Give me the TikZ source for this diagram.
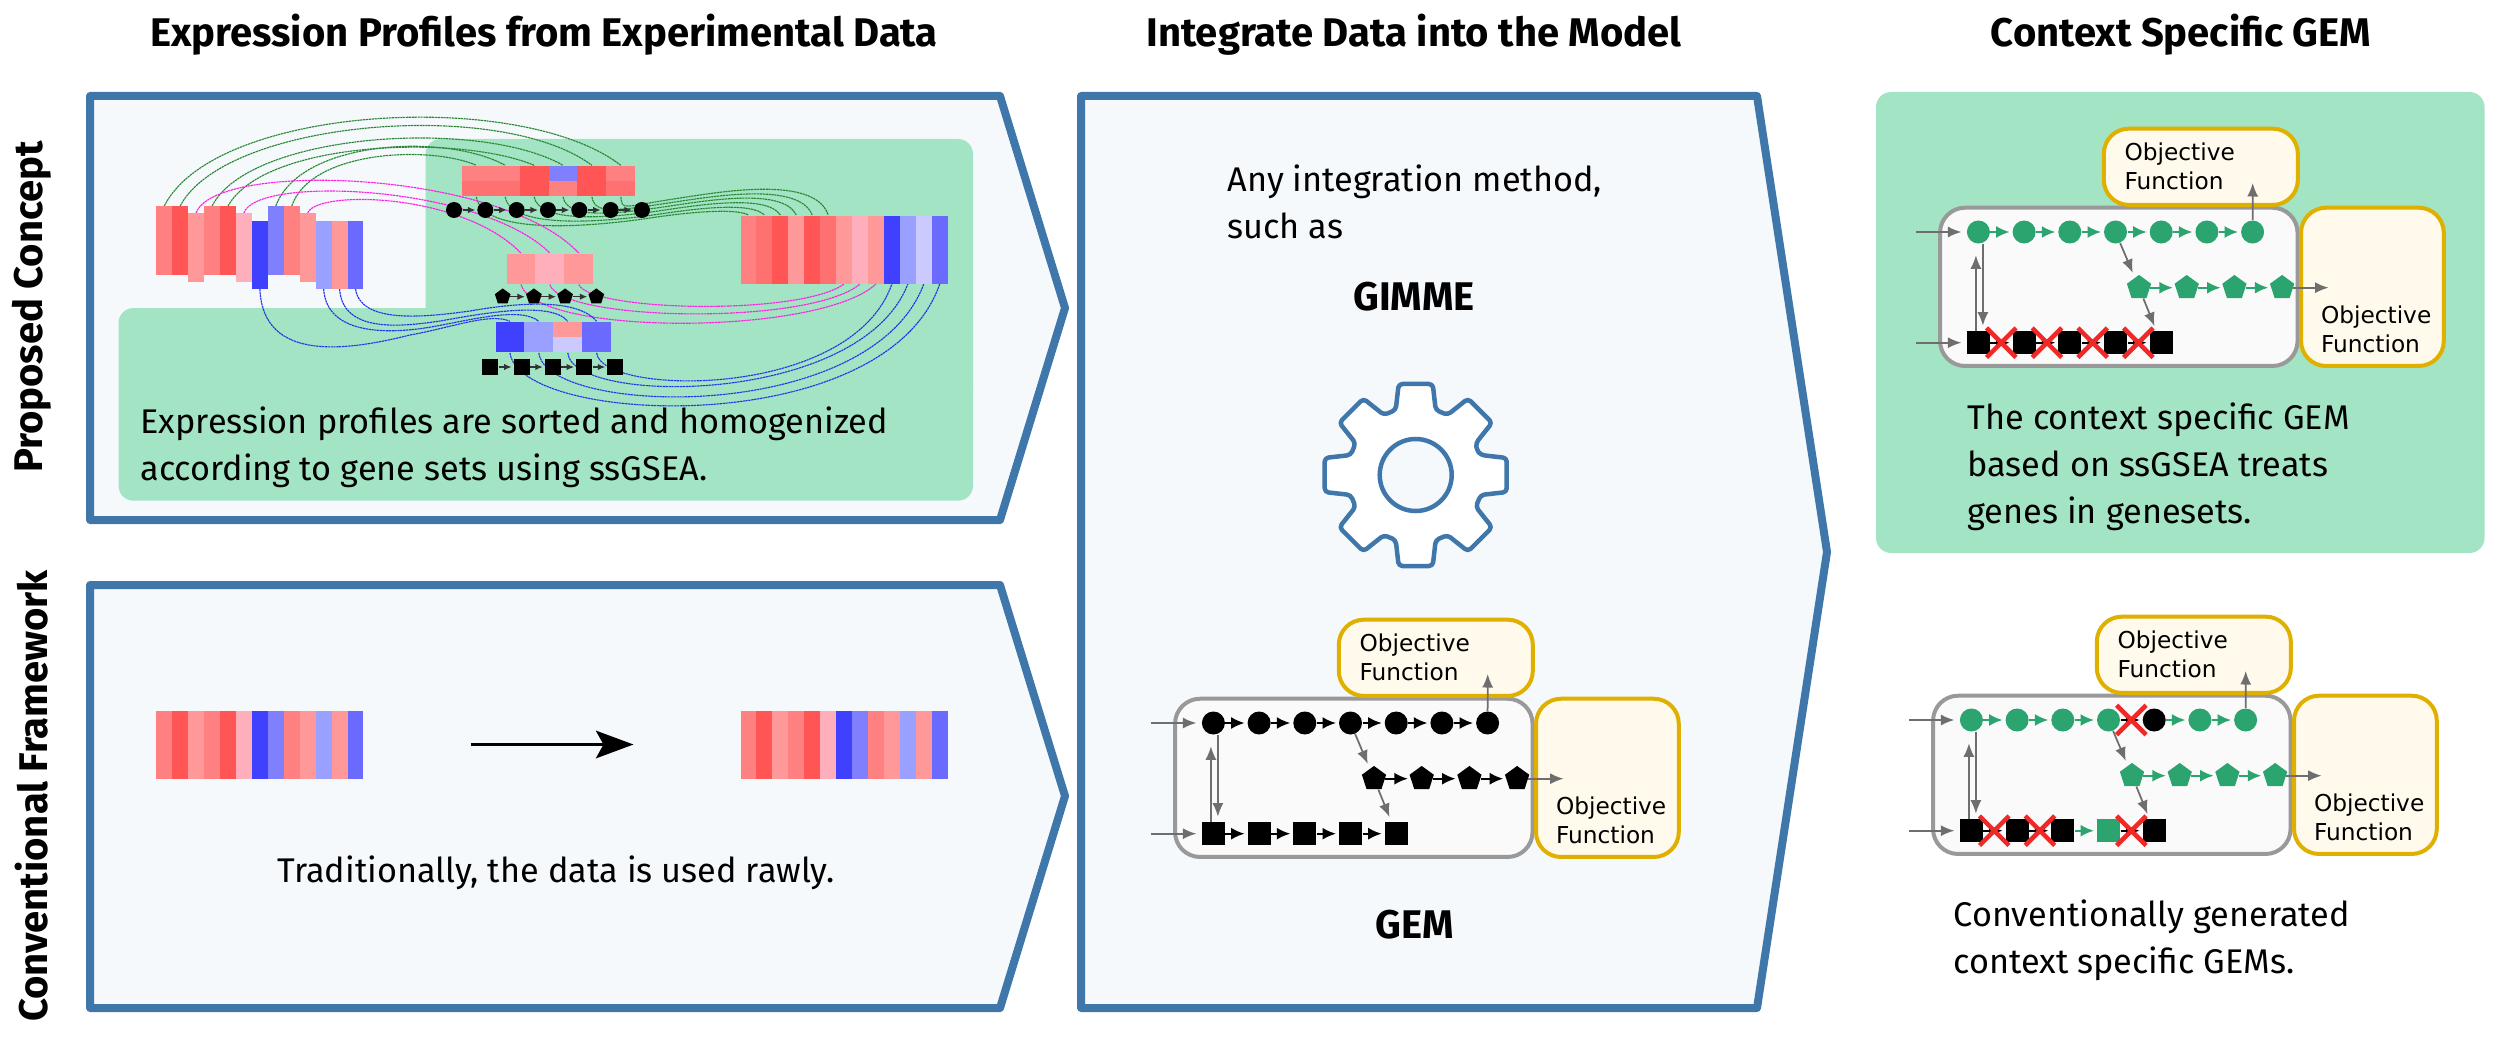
\documentclass[tikz,border=0pt]{standalone}
\usepackage{fontspec}
\setmainfont{Fira Sans}
\newfontfamily\objfont{DejaVu Sans}
\usetikzlibrary{arrows.meta,calc,shapes.geometric,shapes.misc}
\definecolor{panelblue}{RGB}{64,119,171}
\definecolor{panelfill}{RGB}{245,249,252}
\definecolor{mintbg}{RGB}{163,228,196}
\definecolor{gemgreen}{RGB}{44,164,111}
\definecolor{objgold}{RGB}{224,176,0}
\definecolor{objfill}{RGB}{255,250,235}
\definecolor{boxgrey}{RGB}{153,153,153}
\definecolor{boxfill}{RGB}{250,250,250}
\definecolor{argrey}{RGB}{110,110,110}
\definecolor{crossred}{RGB}{240,40,40}
\definecolor{wiregreen}{RGB}{40,135,50}
\definecolor{wiremag}{RGB}{255,30,225}
\definecolor{wireblue}{RGB}{35,50,235}
\definecolor{exA}{RGB}{255,85,85}
\definecolor{exB}{RGB}{255,128,128}
\definecolor{exC}{RGB}{255,153,153}
\definecolor{exD}{RGB}{255,175,187}
\definecolor{exE}{RGB}{64,64,255}
\definecolor{exF}{RGB}{128,128,255}
\definecolor{exG}{RGB}{154,160,255}
\definecolor{exH}{RGB}{106,106,255}
\definecolor{exI}{RGB}{202,202,255}
\definecolor{exJ}{RGB}{255,112,112}
\pgfdeclarelayer{back}
\pgfdeclarelayer{wires}
\pgfsetlayers{back,wires,main}
\newcommand{\gemnet}[3]{%
  \node[gembox] (box) at (140.4,54.85) {};
  \node[objbox,minimum height=30.5pt,text width=61pt,inner xsep=8.3pt] (obja) at (222.4,-65.2) {Objective\\Function};
  \node[objbox,minimum height=63.3pt,text width=41.1pt,inner xsep=8pt] (objb) at (394,54.85) {\mbox{}\\[29.6pt]Objective\\Function};
  \coordinate (ina) at (-62.4,0);
  \coordinate (inb) at (-62.4,110.7);
  \coordinate (top) at (274.3,-49);
  \coordinate (out) at (350.2,55.7);
  \foreach \c [count=\i, remember=\i as \j (initially 0)] in {#1} {
    \node[circlenode,fill=\c] (c\i) at ({45.7*(\i-1)},0) {};
    \ifnum\i>1 \draw[linkar,\c] (c\j) -- (c\i);\fi}
  \foreach \c [count=\i, remember=\i as \j (initially 0)] in {#2} {
    \node[pentnode,fill=\c] (p\i) at ({160.6+47.7*(\i-1)},55.7) {};
    \ifnum\i>1 \draw[linkar,\c] (p\j) -- (p\i);\fi}
  \foreach \c [count=\i, remember=\i as \j (initially 0)] in {#3} {
    \node[squarenode,fill=\c] (s\i) at ({45.7*(\i-1)},110.7) {};
    \ifnum\i>1 \draw[linkar,\c] (s\j) -- (s\i);\fi}
  \draw[greyar] (ina) -- (c1);
  \draw[greyar] (inb) -- (s1);
  \draw[greyar] ([xshift=-1pt]s1.north) -- ([xshift=-1pt,yshift=-2.5pt]c1.south);
  \draw[greyar] ([xshift=1.8pt]c1.south) -- ([xshift=1.8pt]s1.north);
  \draw[greyar] (c4) -- (p1);
  \draw[greyar] (p1) -- (s5);
  \draw[greyar,shorten >=0pt] (c7.north) -- (top);
  \draw[greyar,shorten >=0pt] (p4) -- (out);
}
\begin{document}
\begin{tikzpicture}[x=0.4pt,y=-0.4pt,
  every node/.style={font=\fontsize{13.7}{18.8}\selectfont,text=black},
  panel/.style={draw=panelblue,fill=panelfill,line width=3.2pt,line join=round},
  mint/.style={fill=mintbg,rounded corners=6pt},
  head/.style={font=\fontsize{16}{18}\selectfont\bfseries},
  body/.style={align=left,anchor=west,inner sep=0pt},
  strip/.style={minimum width=6.36pt,minimum height=27.2pt,inner sep=0pt,anchor=north west},
  cell/.style={minimum width=11.55pt,minimum height=6.1pt,inner sep=0pt,anchor=north west},
  gembox/.style={draw=boxgrey,fill=boxfill,line width=1.6pt,rounded corners=10pt,
                 minimum width=143pt,minimum height=63.3pt},
  objbox/.style={draw=objgold,fill=objfill,line width=1.6pt,rounded corners=10pt,align=left,
                 inner ysep=0pt,font=\objfont\fontsize{9.3}{11.6}\selectfont},
  circlenode/.style={circle,minimum size=9.2pt,inner sep=0pt},
  pentnode/.style={regular polygon,regular polygon sides=5,minimum size=10.2pt,inner sep=0pt},
  squarenode/.style={rectangle,minimum size=9.2pt,inner sep=0pt},
  minic/.style={circle,fill=black,minimum size=6.4pt,inner sep=0pt},
  minip/.style={regular polygon,regular polygon sides=5,fill=black,minimum size=6.6pt,inner sep=0pt},
  minis/.style={rectangle,fill=black,minimum size=6.4pt,inner sep=0pt},
  linkar/.style={-{Latex[length=5.4pt,width=4.8pt]},line width=.8pt,shorten >=1pt},
  miniar/.style={-{Latex[length=3pt,width=2.6pt]},line width=.5pt,black!80,shorten >=.6pt},
  greyar/.style={-{Latex[length=5.4pt,width=4.4pt]},argrey,line width=.7pt,shorten >=2pt},
  bigar/.style={-{Stealth[length=15pt,width=11pt,inset=3pt]},line width=1.4pt},
  crossmark/.style={cross out,draw=crossred,line width=1.8pt,minimum size=10pt,inner sep=0pt},
  wire/.style={line width=.45pt,dash pattern=on .9pt off .25pt},
  gearline/.style={draw=panelblue,fill=white,line width=1.8pt,line join=round,rounded corners=1.5pt}]

\useasboundingbox (0,0) rectangle (2500,1039);

\begin{pgfonlayer}{back}
\draw[panel] (90,96) -- (1000,96) -- (1065,308) -- (1000,520) -- (90,520) -- cycle;
\draw[panel] (90,585) -- (1000,585) -- (1065,796) -- (1000,1008) -- (90,1008) -- cycle;
\fill[mint] (425.6,139) rectangle (973,400);
\fill[mint] (118.5,308) rectangle (973,500.7);
\fill[mint] (1876,92) rectangle (2484.5,553);
\end{pgfonlayer}
\draw[panel] (1081,96) -- (1757,96) -- (1827,552) -- (1757,1008) -- (1081,1008) -- cycle;

\node[head] (hexpr) at (544,35) {Expression Profiles from Experimental Data};
\node[head] (hint) at (1414,35) {Integrate Data into the Model};
\node[head] (hgem) at (2181,35) {Context Specific GEM};
\node[head,rotate=90] (hprop) at (32,307) {Proposed Concept};
\node[head,rotate=90] (hconv) at (32,796) {Conventional Framework};

\foreach \c/\y [count=\i] in {exB/206,exA/206,exC/213,exB/206,exA/206,exD/213,exE/220,exF/206,exB/206,exC/213,exG/220,exC/220,exH/220}
  \node[strip,fill=\c] (l\i) at ({155.8+15.94*(\i-1)},\y) {};
\foreach \c [count=\i] in {exB,exJ,exA,exC,exA,exJ,exC,exD,exC,exE,exG,exI,exH}
  \node[strip,fill=\c] (r\i) at ({740+15.94*(\i-1)},215) {};
\foreach \c [count=\i] in {exB,exB,exA,exF,exA,exB}
  \node[cell,minimum width=11.6pt,fill=\c] (ut\i) at ({461.3+28.9*(\i-1)},165.3) {};
\foreach \c [count=\i] in {exJ,exJ,exA,exB,exA,exJ}
  \node[cell,minimum width=11.6pt,fill=\c] (ub\i) at ({461.3+28.9*(\i-1)},180.6) {};
\foreach \c [count=\i] in {exC,exD,exC}
  \node[cell,minimum height=12.2pt,fill=\c] (mb\i) at ({506+28.9*(\i-1)},253) {};
\foreach \c [count=\i] in {exE,exG,exC,exH}
  \node[cell,fill=\c] (lt\i) at ({495+28.9*(\i-1)},321.3) {};
\foreach \c [count=\i] in {exE,exG,exI,exH}
  \node[cell,fill=\c] (lb\i) at ({495+28.9*(\i-1)},336.6) {};

\foreach \i [remember=\i as \j (initially 0)] in {1,...,7} {
  \node[minic] (gc\i) at ({454+31.33*(\i-1)},210) {};
  \ifnum\i>1 \draw[miniar] (gc\j) -- (gc\i);\fi}
\foreach \i [remember=\i as \j (initially 0)] in {1,...,4} {
  \node[minip] (gp\i) at ({502.7+31.2*(\i-1)},296.7) {};
  \ifnum\i>1 \draw[miniar] (gp\j) -- (gp\i);\fi}
\foreach \i [remember=\i as \j (initially 0)] in {1,...,5} {
  \node[minis] (gs\i) at ({490.3+31.25*(\i-1)},367) {};
  \ifnum\i>1 \draw[miniar] (gs\j) -- (gs\i);\fi}

\begin{pgfonlayer}{wires}
\foreach \a/\b/\px/\py/\qx/\qy in {l1/ut6/51/-101/-100/-77,l2/ut5/45/-86/-91/-68,l4/ut4/38/-74/-82/-47,
    l5/ut3/37/-66/-73/-31,l8/ut2/24/-66/-60/-33,l9/ut1/19/-56/-46/-20}
  \draw[wire,wiregreen] (\a.north) .. controls +(\px,\py) and +(\qx,\qy) .. (\b.north);
\foreach \a/\b/\px/\py/\vx/\vy/\qy in {ub1/r1/6/39/650/218/-7,ub2/r2/5/32/660/214/-13,ub3/r3/5/26/665/210/-20,
    ub4/r4/4/22/670/206/-27,ub5/r5/3/18/675/202/-33,ub6/r6/2/14/680/198/-40}
  \draw[wire,wiregreen] (\a.south) .. controls +(\px,\py) and +(-60,9) .. (\vx,\vy)
    .. controls +(40,-6) and +(-13,\qy) .. (\b.north);
\foreach \a/\b/\px/\py/\qx/\qy in {l3/mb3/19/-53/-78/-83,l6/mb2/12/-38/-69/-68,l10/mb1/8/-23/-60/-61}
  \draw[wire,wiremag] (\a.north) .. controls +(\px,\py) and +(\qx,\qy) .. (\b.north);
\foreach \a/\b/\px/\py/\qx/\qy in {mb3/r7/12/27/-44/32,mb2/r8/11/37/-50/42,mb1/r9/15/52/-56/52}
  \draw[wire,wiremag] (\a.south) .. controls +(\px,\py) and +(\qx,\qy) .. (\b.south);
\foreach \a/\b/\px/\py/\qx/\qy/\vx/\vy/\sx/\sy in {l7/lt1/3/75/-60/15/410/335/-19/-9,l11/lt2/3/47/-41/7/431/327/-18/-15,
    l12/lt3/3/44/-40/6/440/321/-17/-21,l13/lt4/5/34/-50/7/470/311/-21/-25}
  \draw[wire,wireblue] (\a.south) .. controls +(\px,\py) and +(\qx,\qy) .. (\vx,\vy)
    .. controls +(40,-7) and +(\sx,\sy) .. (\b.north);
\foreach \a/\b/\px/\py/\qx/\qy in {lb4/r10/4/43/-41/117,lb3/r11/5/53/-47/122,lb2/r12/7/63/-53/142,lb1/r13/10/73/-54/157}
  \draw[wire,wireblue] (\a.south) .. controls +(\px,\py) and +(\qx,\qy) .. (\b.south);
\end{pgfonlayer}

\node[body] (tsort) at (140,447) {Expression profiles are sorted and homogenized\\according to gene sets using ssGSEA.};

\foreach \c [count=\i] in {exB,exA,exC,exB,exA,exD,exE,exF,exB,exC,exG,exC,exH} {
  \node[strip,fill=\c] (p\i) at ({155.8+15.94*(\i-1)},710) {};
  \node[strip,fill=\c] (q\i) at ({740+15.94*(\i-1)},710) {};}
\draw[bigar,shorten <=42.8pt,shorten >=42.6pt] (p13.east) -- (q1.west);
\node[anchor=center,inner sep=0pt] (traw) at (556,873) {Traditionally, the data is used rawly.};

\node[body] (tany) at (1227,202) {Any integration method,\\such as};
\node[head] (tgimme) at (1414,297) {GIMME};
\draw[gearline,shift={(1415.7,475)}] (-22.5:66) \foreach \a in {0,45,...,315} {
  -- ({\a-17.1}:68) -- ({\a-10.6}:92.6) -- ({\a+10.6}:92.6) -- ({\a+17.1}:68)} -- cycle;
\node[circle,draw=panelblue,fill=panelfill,line width=1.8pt,minimum size=28.8pt,inner sep=0pt] (hole) at (1415.7,475) {};

\begin{scope}[shift={(1213.4,723)},name prefix=mid-]
\gemnet{black,black,black,black,black,black,black}{black,black,black,black}{black,black,black,black,black}
\end{scope}
\node[head] (tgem) at (1415,925) {GEM};

\begin{scope}[shift={(1978.4,232)},name prefix=top-]
\gemnet{gemgreen,gemgreen,gemgreen,gemgreen,gemgreen,gemgreen,gemgreen}{gemgreen,gemgreen,gemgreen,gemgreen}{black,black,black,black,black}
\foreach \a/\b [count=\i] in {s1/s2,s2/s3,s3/s4,s4/s5}
  \node[crossmark] (x\i) at ($(\a)!.5!(\b)$) {};
\end{scope}
\node[body] (tctx) at (1967,467) {The context specific GEM\\based on ssGSEA treats\\genes in genesets.};

\begin{scope}[shift={(1971.4,720)},name prefix=low-]
\gemnet{gemgreen,gemgreen,gemgreen,gemgreen,black,gemgreen,gemgreen}{gemgreen,gemgreen,gemgreen,gemgreen}{black,black,black,gemgreen,black}
\foreach \a/\b [count=\i] in {c4/c5,s1/s2,s2/s3,s4/s5}
  \node[crossmark] (x\i) at ($(\a)!.5!(\b)$) {};
\end{scope}
\node[body] (tconv) at (1953,940) {Conventionally generated\\context specific GEMs.};
\end{tikzpicture}
\end{document}
